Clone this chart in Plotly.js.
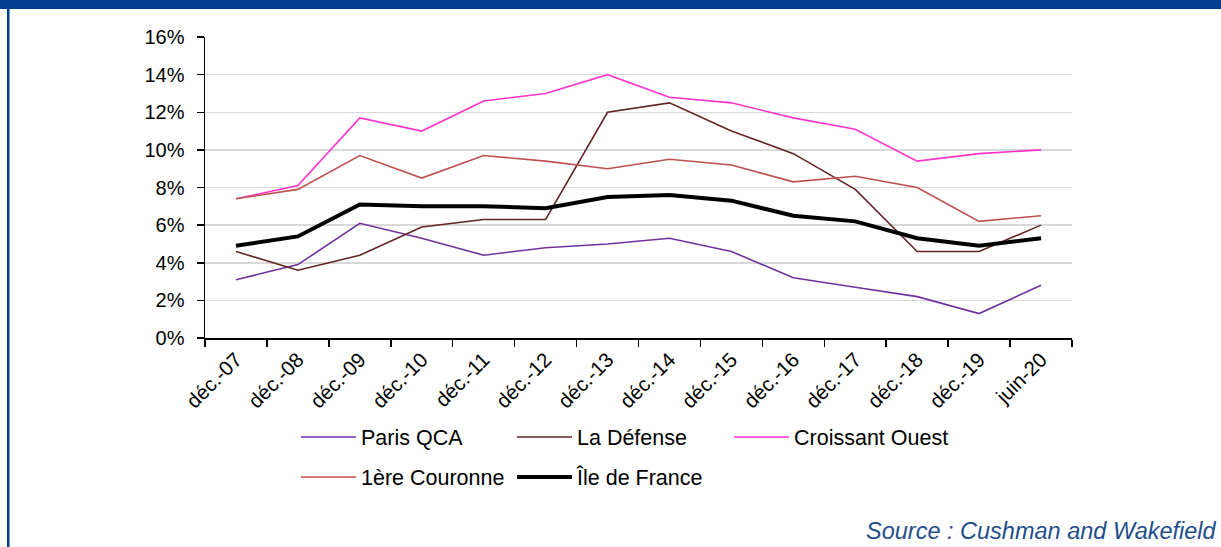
<!DOCTYPE html>
<html>
<head>
<meta charset="utf-8">
<script src="https://cdn.plot.ly/plotly-3.0.1.min.js"></script>
<style>
  html, body { margin: 0; padding: 0; background: #fff; }
  #chart { width: 1221px; height: 547px; }
</style>
</head>
<body>
<div id="chart"></div>
<script>
const categories = ["déc.-07","déc.-08","déc.-09","déc.-10","déc.-11","déc.-12","déc.-13","déc.-14","déc.-15","déc.-16","déc.-17","déc.-18","déc.-19","juin-20"];
const parisQCA      = [3.1, 3.9, 6.1, 5.3, 4.4, 4.8, 5.0, 5.3, 4.6, 3.2, 2.7, 2.2, 1.3, 2.8];
const laDefense     = [4.6, 3.6, 4.4, 5.9, 6.3, 6.3, 12.0, 12.5, 11.0, 9.8, 7.9, 4.6, 4.6, 6.0];
const croissantOuest= [7.4, 8.1, 11.7, 11.0, 12.6, 13.0, 14.0, 12.8, 12.5, 11.7, 11.1, 9.4, 9.8, 10.0];
const premiereCouronne = [7.4, 7.9, 9.7, 8.5, 9.7, 9.4, 9.0, 9.5, 9.2, 8.3, 8.6, 8.0, 6.2, 6.5];
const ileDeFrance   = [4.9, 5.4, 7.1, 7.0, 7.0, 6.9, 7.5, 7.6, 7.3, 6.5, 6.2, 5.3, 4.9, 5.3];
const seriesNames = ["Paris QCA", "La Défense", "Croissant Ouest", "1ère Couronne", "Île de France"];
const sourceText = "Source : Cushman and Wakefield";

const FONT = "'Liberation Sans', Arial, sans-serif";
const FS = 20;

function tr(name, y, color, width, legend) {
  return { type: 'scatter', mode: 'lines', x: categories, y: y, name: name,
    line: { color: color, width: width }, legend: legend, hoverinfo: 'skip' };
}

const traces = [
  tr(seriesNames[0], parisQCA, '#7030A0', 1.6, 'legend'),
  tr(seriesNames[1], laDefense, '#632523', 1.6, 'legend'),
  tr(seriesNames[2], croissantOuest, '#FF33CC', 1.6, 'legend3'),
  tr(seriesNames[3], premiereCouronne, '#C0504D', 1.6, 'legend2'),
  tr(seriesNames[4], ileDeFrance, '#000000', 4, 'legend2')
];

// pixel helpers for paper coords (plot area 205..1072 x, 37..338 y)
const L = 205, R = 149, T = 37, B = 209;
const PW = 1221 - L - R, PH = 547 - T - B;
const px = p => (p - L) / PW;
const py = p => (547 - B - p) / PH;

const legendCommon = {
  orientation: 'h', xref: 'paper', yref: 'paper', xanchor: 'left', yanchor: 'middle',
  font: { family: FONT, size: 21.5, color: '#000' }, bgcolor: 'rgba(0,0,0,0)',
  itemwidth: 55, entrywidth: 146, traceorder: 'normal', tracegroupgap: 0
};

const layout = {
  width: 1221, height: 547,
  margin: { l: L, r: R, t: T, b: B, pad: 0 },
  paper_bgcolor: '#fff', plot_bgcolor: '#fff',
  font: { family: FONT, size: FS, color: '#000' },
  showlegend: true,
  legend: Object.assign({}, legendCommon, { x: px(296), y: py(437) }),
  legend3: Object.assign({}, legendCommon, { x: px(729), y: py(437), entrywidth: 180 }),
  legend2: Object.assign({}, legendCommon, { x: px(296), y: py(477) }),
  xaxis: {
    type: 'category', range: [-0.5, 13.5], tickangle: -45,
    ticks: 'outside', tickson: 'boundaries', ticklen: 7, tickwidth: 1.5, tickcolor: '#000',
    showline: true, linecolor: '#000', linewidth: 1.5, showgrid: false, zeroline: false,
    tickfont: { family: FONT, size: 20.5, color: '#000' }, fixedrange: true
  },
  yaxis: {
    range: [0, 16], dtick: 2, tick0: 0, ticksuffix: '%',
    ticks: 'outside', ticklen: 7, tickwidth: 1.5, tickcolor: '#000',
    showline: true, linecolor: '#000', linewidth: 1.5,
    showgrid: true, gridcolor: '#D9D9D9', gridwidth: 1.5, zeroline: false,
    ticklabelstandoff: 8,
    tickfont: { family: FONT, size: FS, color: '#000' }, fixedrange: true
  },
  shapes: [
    { type: 'rect', xref: 'paper', yref: 'paper', x0: px(-2), x1: px(1223), y0: py(9), y1: py(-2),
      fillcolor: '#003E8F', line: { width: 0 }, layer: 'above' },
    { type: 'rect', xref: 'paper', yref: 'paper', x0: px(7), x1: px(9.5), y0: py(550), y1: py(0),
      fillcolor: '#003E8F', line: { width: 0 }, layer: 'above' }
  ],
  annotations: [
    { text: '<i>' + sourceText + '</i>', xref: 'paper', yref: 'paper', x: px(1219), y: py(516),
      xanchor: 'right', yanchor: 'top', showarrow: false,
      font: { family: FONT, size: 23.5, color: '#1F4E8C' } }
  ]
};

Plotly.newPlot('chart', traces, layout, { displayModeBar: false, staticPlot: true });
</script>
</body>
</html>
